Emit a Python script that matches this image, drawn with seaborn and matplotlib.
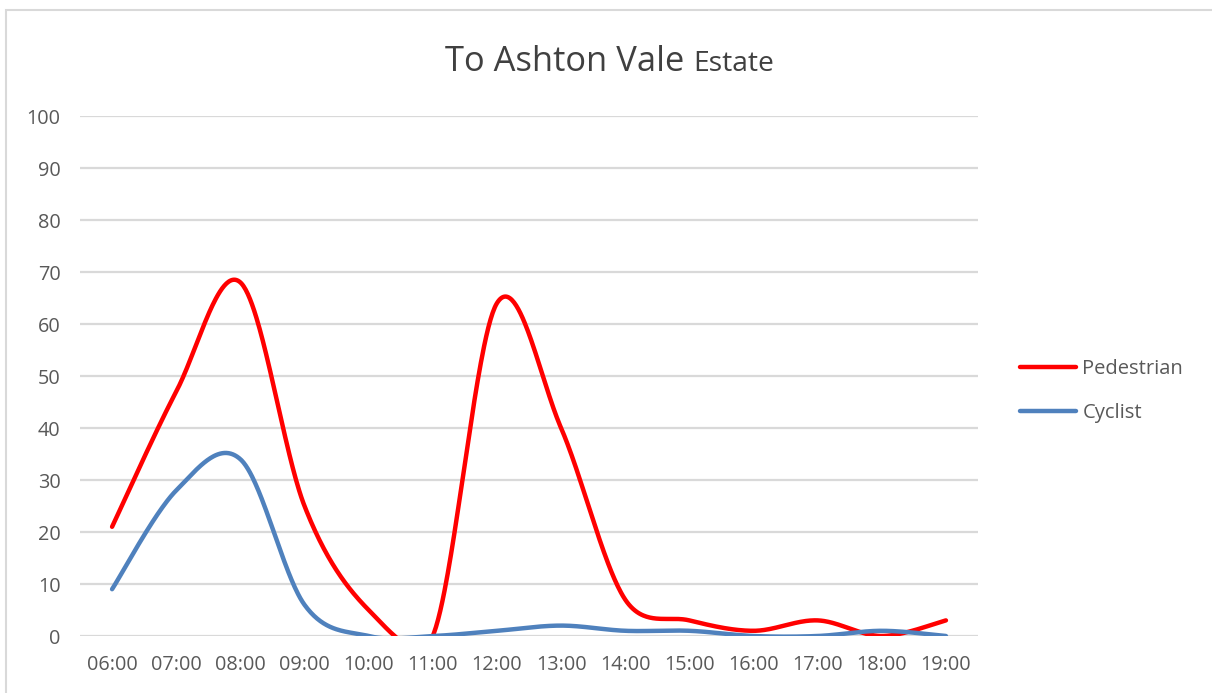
import numpy as np
import pandas as pd
import matplotlib
matplotlib.use("Agg")
import matplotlib.pyplot as plt
import seaborn as sns
from matplotlib.patches import Rectangle

hours = ["06:00", "07:00", "08:00", "09:00", "10:00", "11:00", "12:00",
         "13:00", "14:00", "15:00", "16:00", "17:00", "18:00", "19:00"]
pedestrian = [21, 47, 68, 25, 5, 0, 64, 40, 7, 3, 1, 3, 0, 3]
cyclist = [9, 28, 34, 6, 0, 0, 1, 2, 1, 1, 0, 0, 1, 0]
series_names = ["Pedestrian", "Cyclist"]
y_ticks = [0, 10, 20, 30, 40, 50, 60, 70, 80, 90, 100]

# screen scale (pixels per unit) used for Excel-like smoothing
X_PX = 898 / 14
Y_PX = 520 / 100


def smooth(values, n=60):
    """Excel-style smoothed line: Bezier, tension 1/6, arms limited to half chord."""
    p = np.asarray(values, dtype=float)
    x = np.arange(len(p), dtype=float)
    P = np.column_stack([x * X_PX, p * Y_PX])
    m = len(P)
    xs, ys = [], []
    for i in range(m - 1):
        p0 = P[i - 1] if i > 0 else P[i]
        p1, p2 = P[i], P[i + 1]
        p3 = P[i + 2] if i + 2 < m else P[i + 1]
        d12 = np.linalg.norm(p2 - p1)
        d02 = np.linalg.norm(p2 - p0)
        d13 = np.linalg.norm(p3 - p1)
        f1 = 1 / 6
        f2 = 1 / 6
        if d02 / 6 >= d12 / 2 and d02 > 0:
            f1 = d12 / (2 * d02)
        if d13 / 6 >= d12 / 2 and d13 > 0:
            f2 = d12 / (2 * d13)
        c1 = p1 + (p2 - p0) * f1
        c2 = p2 - (p3 - p1) * f2
        t = np.linspace(0, 1, n, endpoint=(i == m - 2))[:, None]
        b = ((1 - t) ** 3) * p1 + 3 * (1 - t) ** 2 * t * c1 \
            + 3 * (1 - t) * t ** 2 * c2 + t ** 3 * p2
        xs.append(b[:, 0] / X_PX)
        ys.append(b[:, 1] / Y_PX)
    return np.concatenate(xs), np.concatenate(ys)


frames = []
for name, vals in zip(series_names, [pedestrian, cyclist]):
    sx, sy = smooth(vals)
    frames.append(pd.DataFrame({"x": sx, "y": sy, "series": name}))
df = pd.concat(frames, ignore_index=True)

sns.set_theme(style="white")
plt.rcParams["font.family"] = ["Open Sans", "DejaVu Sans"]

fig = plt.figure(figsize=(12.12, 6.93), dpi=100)
ax = fig.add_axes([80 / 1212, 1 - 636 / 693, 898 / 1212, 520 / 693])

palette = {"Pedestrian": "#FF0000", "Cyclist": "#4F81BD"}
sns.lineplot(data=df, x="x", y="y", hue="series", palette=palette,
             hue_order=series_names, sort=False, estimator=None,
             linewidth=3.2, ax=ax, legend=True, solid_capstyle="round")

ax.set_xlim(-0.5, len(hours) - 0.5)
ax.set_ylim(0, 100)
ax.set_yticks(y_ticks)
ax.set_xticks(range(len(hours)))
ax.set_xticklabels(hours)
ax.yaxis.grid(True, color="#D9D9D9", linewidth=1.6)
ax.set_axisbelow(True)
for s in ax.spines.values():
    s.set_visible(False)
ax.tick_params(axis="both", length=0, labelsize=14.3, colors="#595959")
ax.tick_params(axis="y", pad=14)
ax.tick_params(axis="x", pad=14)
ax.set_xlabel("")
ax.set_ylabel("")

leg = ax.legend(loc="center left", frameon=False, fontsize=14.5,
                handlelength=2.8, handletextpad=0.3, labelspacing=1.15,
                borderaxespad=0, borderpad=0)
leg.set_bbox_to_anchor((1020 / 1212, 1 - 391 / 693), transform=fig.transFigure)
for txt in leg.get_texts():
    txt.set_color("#595959")
for line in leg.get_lines():
    line.set_linewidth(3.2)

# Title with mixed sizes, common baseline
base_y = 1 - 71 / 693
t1 = fig.text(445 / 1212, base_y, "To Ashton Vale ", fontsize=24.8,
              color="#404040", ha="left", va="baseline")
fig.canvas.draw()
bb = t1.get_window_extent()
fig.text(bb.x1 / fig.bbox.width, base_y, "Estate", fontsize=20.3,
         color="#404040", ha="left", va="baseline")

# outer chart border
fig.patches.append(Rectangle((6 / 1212, -0.1), 1.2, 1 - 10 / 693 + 0.1,
                             transform=fig.transFigure, fill=False,
                             edgecolor="#D9D9D9", linewidth=1.5))

fig.savefig("out.png", dpi=100)
